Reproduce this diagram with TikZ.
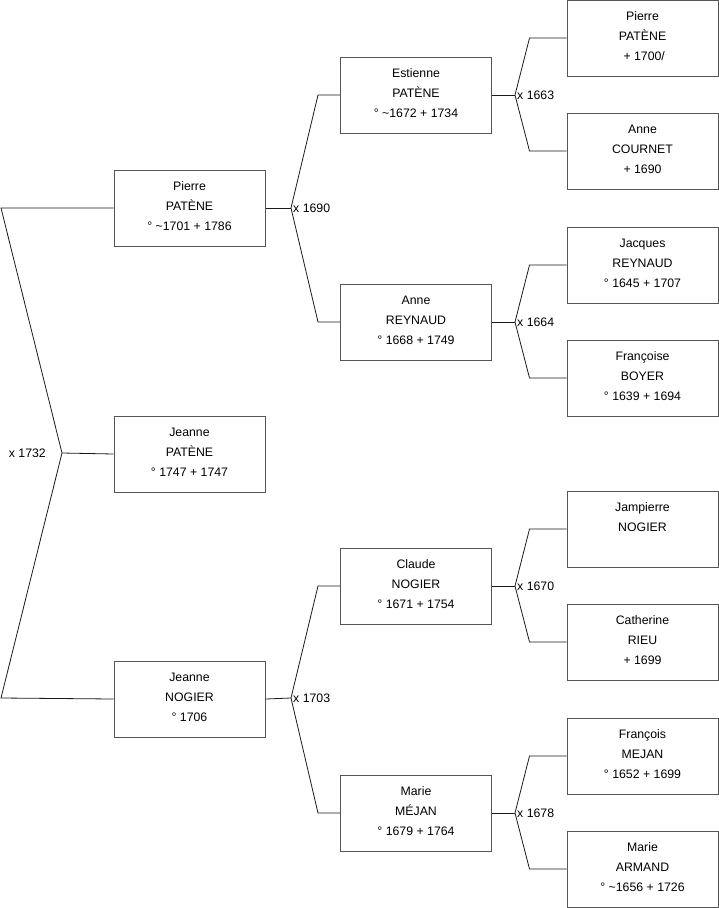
\documentclass[tikz,border=0pt]{standalone}
\usepackage{fontspec}
\setmainfont{Liberation Sans}
\usetikzlibrary{positioning, calc}
\definecolor{cbox}{HTML}{555555}
\definecolor{cline}{HTML}{1A1A1A}
\tikzset{
  every picture/.style={font=\fontsize{12.3}{20}\selectfont},
  person/.style={draw=cbox, line width=1pt, minimum width=151pt, minimum height=76pt, text depth=4pt, align=center, inner sep=0pt},
  link/.style={draw=cline, line width=0.8pt},
  union/.style={font=\fontsize{12.3}{14}\selectfont, inner sep=1pt},
}

\begin{document}
\begin{tikzpicture}[x=1pt, y=-1pt]
  \useasboundingbox (0,0) rectangle (719,908);

  % generation 1 and 2
  \node[person] (pierre) at (189.5,208) {Pierre\\PATÈNE\\° \textasciitilde1701 + 1786};
  \node[person] (jeanne) at (189.5,454) {Jeanne\\PATÈNE\\° 1747 + 1747};
  \node[person] (jeanneN) at (189.5,699) {Jeanne\\NOGIER\\° 1706};

  % generation 3
  \node[person] (estienne) at (416,95) {Estienne\\PATÈNE\\° \textasciitilde1672 + 1734};
  \node[person] (anneR) at (416,322) {Anne\\REYNAUD\\° 1668 + 1749};
  \node[person] (claude) at (416,586) {Claude\\NOGIER\\° 1671 + 1754};
  \node[person] (marieM) at (416,813) {Marie\\MÉJAN\\° 1679 + 1764};

  % generation 4
  \node[person] (pierreP) at (642.5,38) {Pierre\\PATÈNE\\~+ 1700/};
  \node[person] (anneC) at (642.5,151) {Anne\\COURNET\\+ 1690};
  \node[person] (jacques) at (642.5,265) {Jacques\\REYNAUD\\° 1645 + 1707};
  \node[person] (francoise) at (642.5,378) {Françoise\\BOYER\\° 1639 + 1694};
  \node[person] (jampierre) at (642.5,529) {Jampierre\\NOGIER\\~};
  \node[person] (catherine) at (642.5,642) {Catherine\\RIEU\\+ 1699};
  \node[person] (francois) at (642.5,756) {François\\MEJAN\\° 1652 + 1699};
  \node[person] (marieA) at (642.5,869) {Marie\\ARMAND\\° \textasciitilde1656 + 1726};

  % junctions
  \coordinate (top0) at (1,208);
  \coordinate (bot0) at (1,698);
  \coordinate (j0) at (62,453);
  \coordinate (j1) at (291,208);
  \coordinate (j2) at (291,698);
  \coordinate (j3) at (515,95);
  \coordinate (j4) at (515,322);
  \coordinate (j5) at (515,586);
  \coordinate (j6) at (515,813);

  \node[union, left=15pt of j0] (m0) {x 1732};
  \node[union, right=1pt of j1] (m1) {x 1690};
  \node[union, right=1pt of j2] (m2) {x 1703};
  \node[union, right=1pt of j3] (m3) {x 1663};
  \node[union, right=1pt of j4] (m4) {x 1664};
  \node[union, right=1pt of j5] (m5) {x 1670};
  \node[union, right=1pt of j6] (m6) {x 1678};

  % connectors
  \draw[link] (pierre.west) -- (top0) -- (j0) -- (bot0) -- (jeanneN.west);
  \draw[link] (j0) -- (jeanne.west);
  \draw[link] (pierre.east) -- (j1);
  \draw[link] (estienne.west) -- ++(-22,0) -- (j1) -- ([xshift=-22pt]anneR.west) -- (anneR.west);
  \draw[link] (jeanneN.east) -- (j2);
  \draw[link] (claude.west) -- ++(-22,0) -- (j2) -- ([xshift=-22pt]marieM.west) -- (marieM.west);
  \draw[link] (estienne.east) -- (j3);
  \draw[link] (pierreP.west) -- ++(-37,0) -- (j3) -- ([xshift=-37pt]anneC.west) -- (anneC.west);
  \draw[link] (anneR.east) -- (j4);
  \draw[link] (jacques.west) -- ++(-37,0) -- (j4) -- ([xshift=-37pt]francoise.west) -- (francoise.west);
  \draw[link] (claude.east) -- (j5);
  \draw[link] (jampierre.west) -- ++(-37,0) -- (j5) -- ([xshift=-37pt]catherine.west) -- (catherine.west);
  \draw[link] (marieM.east) -- (j6);
  \draw[link] (francois.west) -- ++(-37,0) -- (j6) -- ([xshift=-37pt]marieA.west) -- (marieA.west);
\end{tikzpicture}
\end{document}
